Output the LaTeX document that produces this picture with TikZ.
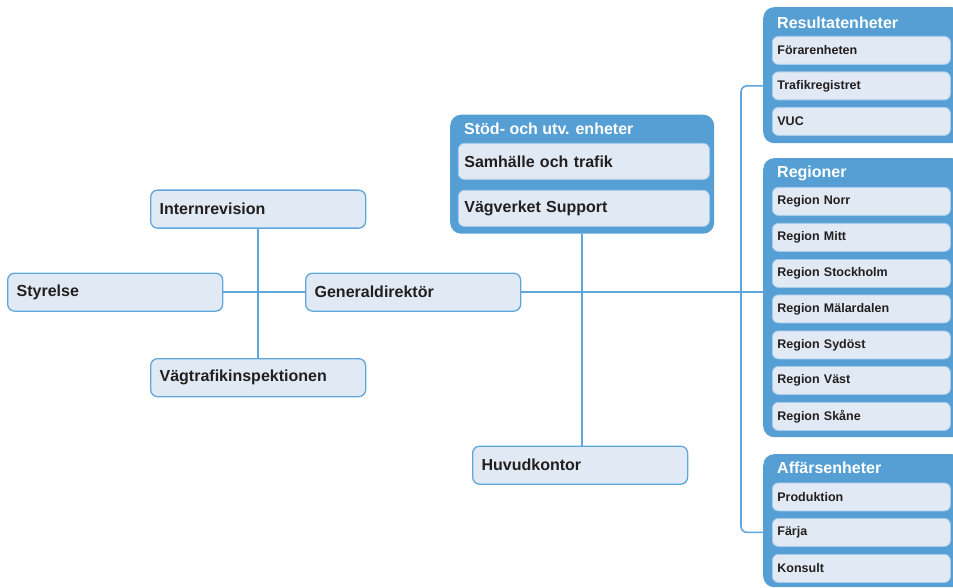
\documentclass[tikz,border=0pt]{standalone}
\usepackage{fontspec}
\setmainfont{Liberation Sans}
\definecolor{edgeblue}{HTML}{5FA6DC}
\definecolor{lineblue}{HTML}{5FA6DC}
\definecolor{lightfill}{HTML}{E1EAF4}
\definecolor{groupblue}{HTML}{569FD4}
\definecolor{subedge}{HTML}{A8CCEB}
\definecolor{txt}{HTML}{231F20}
\begin{document}
\begin{tikzpicture}[x=1pt,y=-1pt,
  box/.style={draw=edgeblue, line width=1.3pt, fill=lightfill, rounded corners=7pt, anchor=north west,
    inner xsep=9pt, inner ysep=0pt, align=left, text=txt, font=\bfseries\fontsize{16}{19}\selectfont,
    text width=197pt, minimum height=38pt},
  sub/.style={draw=subedge, line width=0.8pt, fill=lightfill, rounded corners=6pt, anchor=north west,
    inner xsep=5pt, inner ysep=0pt, align=left, text=txt, font=\bfseries\fontsize{12.5}{15}\selectfont,
    text width=168pt, minimum height=28pt},
  bigsub/.style={sub, inner xsep=6pt, text width=239pt, minimum height=36pt, font=\bfseries\fontsize{16}{19}\selectfont},
  grp/.style={fill=groupblue, draw=none, rounded corners=11pt, anchor=north west, inner sep=0pt},
  grptitle/.style={anchor=west, text=white, font=\bfseries\fontsize{16}{19}\selectfont, inner sep=0pt},
  conn/.style={draw=lineblue, line width=1.6pt},
]
\useasboundingbox (0,0) rectangle (953,588);
\clip (0,0) rectangle (953,588);

% groups
\node[grp, minimum width=264pt, minimum height=119pt] (stod) at (450,114.5) {};
\node[grptitle] (stodt) at (464,129) {Stöd- och utv. enheter};
\node[bigsub] (sam) at (458,143) {Samhälle och trafik};
\node[bigsub] (vvs) at (458,190) {Vägverket Support};

\node[grp, minimum width=200pt, minimum height=136pt] (res) at (763,7) {};
\node[grptitle] (rest) at (777,23) {Resultatenheter};
\node[sub] (for) at (772,36) {Förarenheten};
\node[sub] (tra) at (772,71.5) {Trafikregistret};
\node[sub] (vuc) at (772,107) {VUC};

\node[grp, minimum width=200pt, minimum height=279pt] (reg) at (763,158) {};
\node[grptitle] (regt) at (777,173) {Regioner};
\node[sub] (r1) at (772,187) {Region Norr};
\node[sub] (r2) at (772,223) {Region Mitt};
\node[sub] (r3) at (772,259) {Region Stockholm};
\node[sub] (r4) at (772,294.5) {Region Mälardalen};
\node[sub] (r5) at (772,330.5) {Region Sydöst};
\node[sub] (r6) at (772,366) {Region Väst};
\node[sub] (r7) at (772,402) {Region Skåne};

\node[grp, minimum width=200pt, minimum height=133pt] (aff) at (763,454) {};
\node[grptitle] (afft) at (777,468) {Affärsenheter};
\node[sub] (pro) at (772,482.5) {Produktion};
\node[sub] (far) at (772,518) {Färja};
\node[sub] (kon) at (772,554) {Konsult};

% standalone boxes
\node[box] (ir) at (150,189.5) {Internrevision};
\node[box] (sty) at (7,272.5) {Styrelse};
\node[box] (gd) at (305,272.5) {Generaldirektör};
\node[box] (vt) at (150,358) {Vägtrafikinspektionen};
\node[box] (hk) at (472,445.5) {Huvudkontor};

% connectors
\coordinate (tk) at (741,0);
\draw[conn] (ir.south) -- (vt.north);
\draw[conn] (sty.east) -- (gd.west);
\draw[conn] (gd.east) -- (gd.east -| reg.west);
\draw[conn] (stod.south) -- (stod.south |- hk.north);
\draw[conn, rounded corners=6pt] (res.west |- tra.west) -- (tk |- tra.west) -- (tk |- far.west) -- (aff.west |- far.west);
\end{tikzpicture}
\end{document}
